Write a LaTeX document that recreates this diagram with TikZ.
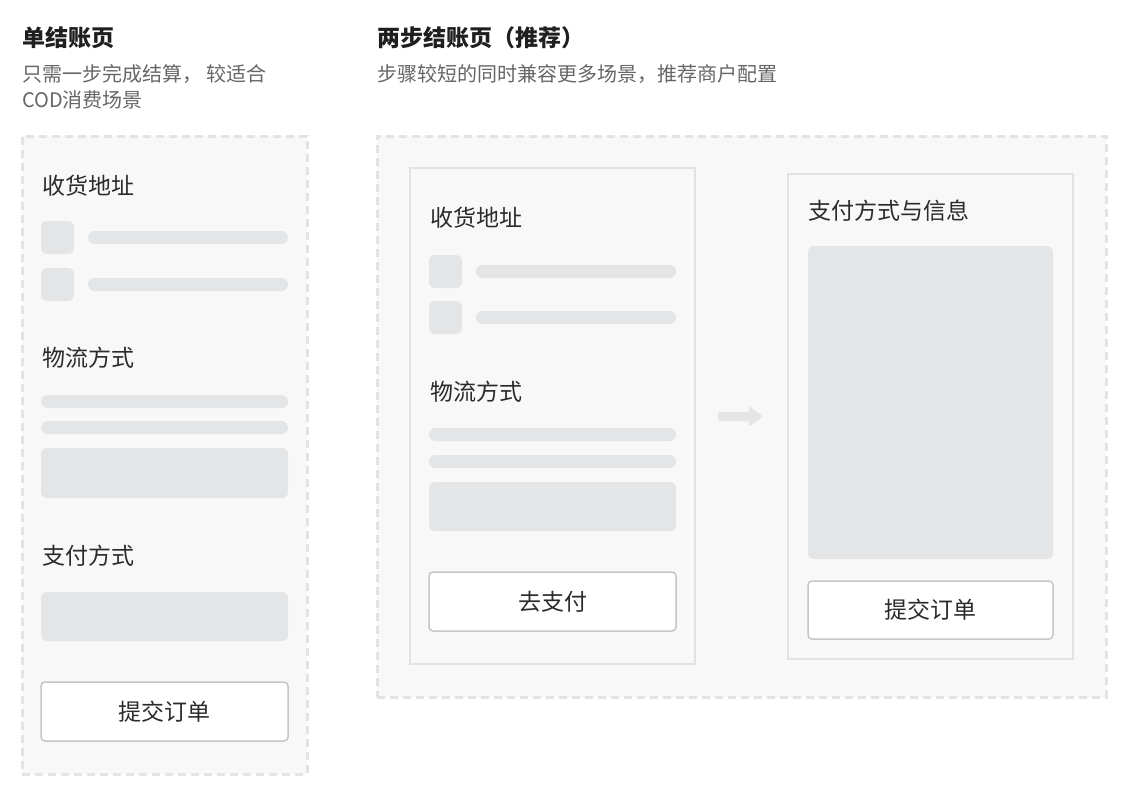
\documentclass[tikz,border=0pt]{standalone}
\usepackage{fontspec}
\setmainfont{Noto Sans CJK SC}
\definecolor{bgc}{HTML}{F8F8F8}
\definecolor{dashc}{HTML}{E3E3E3}
\definecolor{panelc}{HTML}{E2E2E2}
\definecolor{barc}{HTML}{E4E5E7}
\definecolor{btnc}{HTML}{C3C7CC}
\definecolor{textc}{HTML}{2B2B2B}
\definecolor{subc}{HTML}{666666}
\definecolor{titlec}{HTML}{1F1F1F}
\begin{document}
\begin{tikzpicture}[x=1pt,y=-1pt,
  outerbox/.style={draw=dashc, line width=3pt, dash pattern=on 8pt off 5pt, fill=bgc, anchor=north west, inner sep=0, outer sep=0},
  panelbox/.style={draw=panelc, line width=1.5pt, fill=bgc, anchor=north west, inner sep=0, outer sep=0},
  barbox/.style={fill=barc, rounded corners=6.5pt},
  blkbox/.style={fill=barc, rounded corners=6pt},
  btnbox/.style={draw=btnc, line width=1.5pt, fill=white, rounded corners=4pt, anchor=north west, inner sep=0, outer sep=0, font=\fontsize{23}{27}\selectfont, text=textc},
  lbl/.style={anchor=west, inner sep=0, font=\fontsize{23}{27}\selectfont, text=textc},
  ttl/.style={anchor=west, inner sep=0, font=\fontsize{23}{27}\selectfont\bfseries, text=titlec},
  sub/.style={anchor=west, inner sep=0, font=\fontsize{20}{24}\selectfont, text=subc}]
\useasboundingbox (0,0) rectangle (1124,804);
\fill[white] (0,0) rectangle (1124,804);

% ---------- left column ----------
\node[ttl] (t1) at (22,38) {单结账页};
\node[sub] (s1a) at (22,74) {只需一步完成结算， 较适合};
\node[sub] (s1b) at (22,100) {COD消费场景};
\node[outerbox, minimum width=285pt, minimum height=638pt] (o1) at (22,136) {};

\node[lbl] (l1) at (42,186) {收货地址};
\fill[blkbox] (41,221) rectangle (74,254);
\fill[barbox] (88,231) rectangle (288,244);
\fill[blkbox] (41,268) rectangle (74,301);
\fill[barbox] (88,278) rectangle (288,291);

\node[lbl] (l2) at (42,358) {物流方式};
\fill[barbox] (41,395) rectangle (288,408);
\fill[barbox] (41,421) rectangle (288,434);
\fill[blkbox] (41,448) rectangle (288,498);

\node[lbl] (l3) at (42,556) {支付方式};
\fill[blkbox] (41,592) rectangle (288,641);

\node[btnbox, minimum width=247pt, minimum height=59pt] (b1) at (41,682) {提交订单};

% ---------- right column ----------
\node[ttl] (t2) at (377,38) {两步结账页（推荐）};
\node[sub] (s2) at (377,74) {步骤较短的同时兼容更多场景，推荐商户配置};
\node[outerbox, minimum width=729pt, minimum height=561pt] (o2) at (377,136) {};

\node[panelbox, minimum width=285pt, minimum height=496pt] (p1) at (410,168) {};
\node[lbl] (l4) at (430,218) {收货地址};
\fill[blkbox] (429,255) rectangle (462,288);
\fill[barbox] (476,265) rectangle (676,278);
\fill[blkbox] (429,301) rectangle (462,334);
\fill[barbox] (476,311) rectangle (676,324);

\node[lbl] (l5) at (430,392) {物流方式};
\fill[barbox] (429,428) rectangle (676,441);
\fill[barbox] (429,455) rectangle (676,468);
\fill[blkbox] (429,482) rectangle (676,531);

\node[btnbox, minimum width=247pt, minimum height=59pt] (b2) at (429,572) {去支付};

\node[panelbox, minimum width=285pt, minimum height=485pt] (p2) at (788,174) {};
\node[lbl] (l6) at (808,211) {支付方式与信息};
\fill[blkbox] (808,246) rectangle (1053,559);
\node[btnbox, minimum width=245pt, minimum height=58pt] (b3) at (808,581) {提交订单};

% arrow between panels
\fill[barc, rounded corners=2pt] (718,412) -- (749,412) -- (749,406) -- (763,416.5) -- (749,427) -- (749,421) -- (718,421) -- cycle;
\end{tikzpicture}
\end{document}
